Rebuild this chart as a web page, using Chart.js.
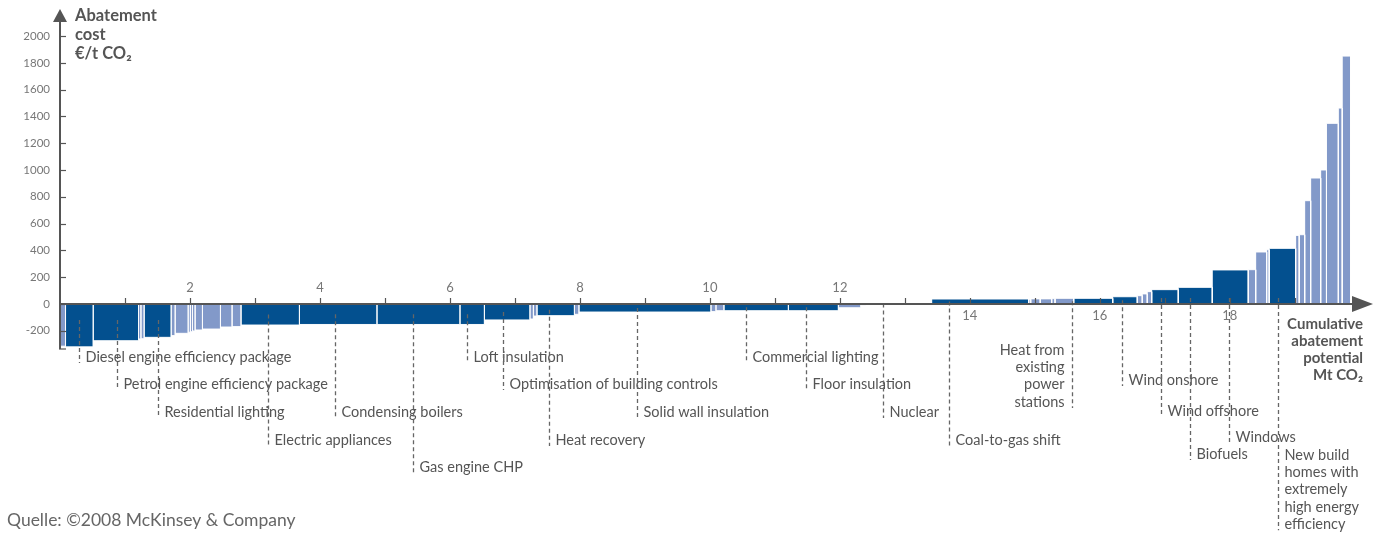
<!DOCTYPE html>
<html><head><meta charset="utf-8">
<script src="https://cdn.jsdelivr.net/npm/chart.js@4/dist/chart.umd.min.js"></script>
<style>html,body{margin:0;padding:0;background:#fff;}canvas{display:block;}</style>
</head><body>
<canvas id="c" width="1386" height="535"></canvas>
<script>
// ---- data ----
const measureNames = ['', 'Diesel engine efficiency package', 'Petrol engine efficiency package', '', '', 'Residential lighting',
  '', '', '', '', '', '', '', '', '', 'Electric appliances', 'Condensing boilers', 'Gas engine CHP', 'Loft insulation',
  'Optimisation of building controls', '', '', 'Heat recovery', '', 'Solid wall insulation', '', '', 'Commercial lighting',
  'Floor insulation', '', '', 'Nuclear', 'Coal-to-gas shift', '', '', '', '', '', 'Heat from existing power stations',
  'Wind onshore', '', '', '', 'Wind offshore', 'Biofuels', 'Windows', '', '', '',
  'New build homes with extremely high energy efficiency', '', '', '', '', '', '', '', ''];
const widthsMt = [0.085,0.423,0.700,0.035,0.049,0.415,0.062,0.200,0.035,0.034,0.038,0.115,0.277,0.177,0.138,0.900,1.192,1.277,0.377,0.700,
  0.054,0.054,0.577,0.069,2.031,0.077,0.123,0.992,0.769,0.346,0.077,1.015,1.492,0.031,0.146,0.177,0.051,0.288,0.600,0.377,
  0.077,0.077,0.069,0.408,0.523,0.554,0.115,0.169,0.038,0.408,0.054,0.085,0.092,0.154,0.089,0.182,0.060,0.131];
const costs = [-315,-320,-274,-261,-259,-249,-236,-219,-211,-207,-201,-194,-187,-172,-169,-157,-153,-153,-153,-119,
  -112,-90,-87,-77,-60,-57,-50,-50,-50,-28,-10,6,37,35,38,38,40,42,42,54,
  62,75,92,107,124,254,256,388,405,415,512,517,771,940,1000,1348,1462,1850];
const yTickValues = [-200,0,200,400,600,800,1000,1200,1400,1600,1800,2000];
const xTickMarks = [1,2,3,4,5,6,7,8,9,10,11,12,13,14,15,16,17,18,19];
const xTickLabels = [2,4,6,8,10,12,14,16,18];
const yTitle = ['Abatement', 'cost', '€/t CO₂'];
const xTitle = ['Cumulative', 'abatement', 'potential', 'Mt CO₂'];
const sourceText = 'Quelle: ©2008 McKinsey & Company';

// ---- label layout (text row y, leader position as fraction of bar width) ----
const labelLayout = {
  'Diesel engine efficiency package': {y:357, at:0.49},
  'Petrol engine efficiency package': {y:384, at:0.53},
  'Residential lighting': {y:412, at:0.52},
  'Electric appliances': {y:440, at:0.46},
  'Condensing boilers': {y:412, at:0.46},
  'Gas engine CHP': {y:467, at:0.43},
  'Loft insulation': {y:357, at:0.29},
  'Optimisation of building controls': {y:384, at:0.41},
  'Heat recovery': {y:440, at:0.32},
  'Solid wall insulation': {y:412, at:0.44},
  'Commercial lighting': {y:357, at:0.34},
  'Floor insulation': {y:384, at:0.35},
  'Nuclear': {y:412, at:0.26},
  'Coal-to-gas shift': {y:440, at:0.18},
  'Heat from existing power stations': {y:350, at:-0.05, lines:['Heat from','existing','power','stations'], align:'right'},
  'Wind onshore': {y:380, at:0.37},
  'Wind offshore': {y:411, at:0.34},
  'Biofuels': {y:454, at:0.34},
  'Windows': {y:437, at:0.46},
  'New build homes with extremely high energy efficiency': {y:455, at:0.32, lines:['New build','homes with','extremely','high energy','efficiency']}
};

const DARK = '#03508f', LIGHT = '#8299c9', INK = '#555555';
const FONT = 'Lato, "Open Sans", sans-serif';

const starts = [];
let cum = 0;
const datasets = widthsMt.map((w, i) => {
  const s = cum, e = cum + w; cum = e; starts.push(s);
  const dark = measureNames[i] !== '';
  return {
    data: [{x:s, y:0}, {x:s, y:costs[i]}, {x:e, y:costs[i]}, {x:e, y:0}],
    fill: 'origin', backgroundColor: dark ? DARK : LIGHT,
    borderColor: 'rgba(255,255,255,0.95)', borderWidth: 1,
    pointRadius: 0, tension: 0
  };
});

function costAt(v) {
  for (let i = 0; i < widthsMt.length; i++) if (v >= starts[i] && v < starts[i] + widthsMt[i]) return costs[i];
  return 0;
}

const overlay = {
  id: 'overlay',
  afterDatasetsDraw(chart) {
    const {ctx, scales: {x, y}} = chart;
    const x0 = x.getPixelForValue(0), y0 = y.getPixelForValue(0);
    ctx.save();
    // leader lines and labels
    ctx.font = '14.5px ' + FONT;
    ctx.textBaseline = 'middle';
    measureNames.forEach((name, i) => {
      if (!name) return;
      const L = labelLayout[name]; if (!L) return;
      const lx = Math.round(x.getPixelForValue(starts[i] + widthsMt[i] * L.at)) + 0.5;
      let dy = y.getPixelForValue(costs[i] * 0.5) - y0;
      dy = Math.max(-6, Math.min(16, dy));
      const lines = L.lines || [name];
      const pitch = 17.3;
      const lastY = L.y + (lines.length - 1) * pitch;
      ctx.strokeStyle = '#666'; ctx.lineWidth = 1.3; ctx.setLineDash([4, 3]);
      ctx.beginPath(); ctx.moveTo(lx, y0 + dy); ctx.lineTo(lx, lastY + 6); ctx.stroke();
      ctx.setLineDash([]);
      ctx.fillStyle = INK;
      lines.forEach((t, k) => {
        if (L.align === 'right') { ctx.textAlign = 'right'; ctx.fillText(t, lx - 8, L.y + k * pitch); }
        else { ctx.textAlign = 'left'; ctx.fillText(t, lx + 6, L.y + k * pitch); }
      });
    });
    // axes
    ctx.strokeStyle = INK; ctx.fillStyle = INK; ctx.lineWidth = 2;
    const xRight = x.right;
    ctx.beginPath(); ctx.moveTo(x0, y0); ctx.lineTo(xRight, y0); ctx.stroke();
    ctx.beginPath(); ctx.moveTo(xRight, y0 - 8); ctx.lineTo(xRight + 21, y0); ctx.lineTo(xRight, y0 + 8); ctx.closePath(); ctx.fill();
    const yTopPx = y.top - 14;
    ctx.beginPath(); ctx.moveTo(x0, y.bottom); ctx.lineTo(x0, yTopPx); ctx.stroke();
    ctx.beginPath(); ctx.moveTo(x0 - 7, yTopPx); ctx.lineTo(x0, yTopPx - 13); ctx.lineTo(x0 + 7, yTopPx); ctx.closePath(); ctx.fill();
    ctx.lineWidth = 1.2;
    ctx.beginPath(); ctx.moveTo(x0 - 1, y.bottom); ctx.lineTo(x0 + 6, y.bottom); ctx.stroke();
    // y tick marks (inside)
    y.ticks.forEach(t => {
      const py = Math.round(y.getPixelForValue(t.value)) + 0.5;
      ctx.beginPath(); ctx.moveTo(x0, py); ctx.lineTo(x0 + 6, py); ctx.stroke();
    });
    // x tick marks
    xTickMarks.forEach(v => {
      const px = Math.round(x.getPixelForValue(v)) + 0.5;
      ctx.beginPath(); ctx.moveTo(px, y0 - 6); ctx.lineTo(px, y0); ctx.stroke();
    });
    // x tick labels
    ctx.font = '13px ' + FONT; ctx.fillStyle = '#777'; ctx.textAlign = 'center'; ctx.textBaseline = 'middle';
    xTickLabels.forEach(v => {
      const px = x.getPixelForValue(v);
      const below = costAt(v) > 0;
      ctx.fillText(String(v), px, below ? y0 + 12 : y0 - 16);
    });
    // titles
    ctx.fillStyle = INK; ctx.font = 'bold 16.5px ' + FONT; ctx.textAlign = 'left';
    yTitle.forEach((t, k) => ctx.fillText(t, x0 + 15, 16 + k * 19));
    ctx.font = 'bold 15px ' + FONT; ctx.textAlign = 'right';
    xTitle.forEach((t, k) => ctx.fillText(t, xRight + 11, 324 + k * 17));
    // source
    ctx.font = '17.5px ' + FONT; ctx.fillStyle = '#666'; ctx.textAlign = 'left';
    ctx.fillText(sourceText, 7, 520);
    ctx.restore();
  }
};

new Chart(document.getElementById('c'), {
  type: 'line',
  data: {datasets},
  options: {
    responsive: false, animation: false, devicePixelRatio: 1,
    layout: {padding: {left: 0, right: 34, top: 36, bottom: 186}},
    plugins: {legend: {display: false}, tooltip: {enabled: false}},
    elements: {line: {tension: 0}},
    scales: {
      x: {type: 'linear', min: 0, max: 19.88, display: false},
      y: {
        type: 'linear', min: -336, max: 2000,
        afterBuildTicks: s => { s.ticks = yTickValues.map(v => ({value: v})); },
        afterFit: s => { s.width = 60; },
        grid: {display: false, drawTicks: false},
        border: {display: false},
        ticks: {font: {family: FONT, size: 11.5}, color: '#777', padding: 10, callback: v => String(v)}
      }
    }
  },
  plugins: [overlay]
});
</script>
</body></html>
